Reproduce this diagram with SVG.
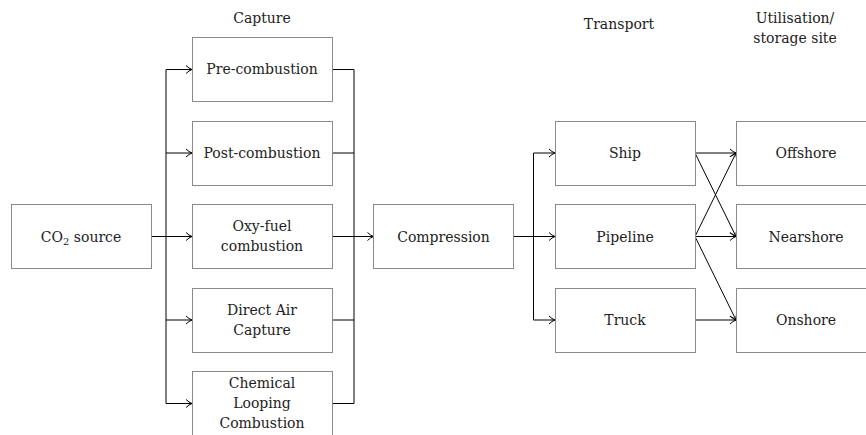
<svg xmlns="http://www.w3.org/2000/svg" width="866" height="435" viewBox="0 0 866 435">
<style>
.box{fill:#fff;stroke:#8a8a8a;stroke-width:1}
.t{font-family:"DejaVu Serif","Liberation Serif",serif;font-size:14px;fill:#222;text-anchor:middle}
.c{fill:none;stroke:#000;stroke-width:1}
.a{fill:none;stroke:#000;stroke-width:1;marker-end:url(#arr)}
</style>
<defs>
<marker id="arr" markerWidth="10" markerHeight="10" refX="8" refY="5" orient="auto" markerUnits="userSpaceOnUse">
<path d="M2,1 Q5,4 8,5 Q5,6 2,9" fill="none" stroke="#000" stroke-width="1"/>
</marker>
</defs>
<g id="labels">
<text class="t" x="262" y="23">Capture</text>
<text class="t" x="619" y="29">Transport</text>
<text class="t" x="795" y="23">Utilisation/</text>
<text class="t" x="795" y="43">storage site</text>
</g>
<g id="connectors">
<line class="c" x1="151" y1="236.5" x2="166" y2="236.5"/>
<line class="c" x1="166" y1="69.5" x2="166" y2="403.5"/>
<line class="a" x1="166" y1="69.5" x2="192" y2="69.5"/>
<line class="a" x1="166" y1="153" x2="192" y2="153"/>
<line class="a" x1="166" y1="236.5" x2="192" y2="236.5"/>
<line class="a" x1="166" y1="320" x2="192" y2="320"/>
<line class="a" x1="166" y1="403.5" x2="192" y2="403.5"/>
<line class="c" x1="332" y1="69.5" x2="354" y2="69.5"/>
<line class="c" x1="332" y1="153" x2="354" y2="153"/>
<line class="c" x1="332" y1="236.5" x2="354" y2="236.5"/>
<line class="c" x1="332" y1="320" x2="354" y2="320"/>
<line class="c" x1="332" y1="403.5" x2="354" y2="403.5"/>
<line class="c" x1="354" y1="69.5" x2="354" y2="403.5"/>
<line class="a" x1="354" y1="236.5" x2="373.5" y2="236.5"/>
<line class="c" x1="513.5" y1="236.5" x2="533.5" y2="236.5"/>
<line class="c" x1="533.5" y1="153" x2="533.5" y2="320"/>
<line class="a" x1="533.5" y1="153" x2="555" y2="153"/>
<line class="a" x1="533.5" y1="236.5" x2="555" y2="236.5"/>
<line class="a" x1="533.5" y1="320" x2="555" y2="320"/>
<line class="a" x1="695" y1="153" x2="736" y2="153"/>
<line class="a" x1="695" y1="153" x2="736" y2="236.5"/>
<line class="a" x1="695" y1="236.5" x2="736" y2="153"/>
<line class="a" x1="695" y1="236.5" x2="736" y2="236.5"/>
<line class="a" x1="695" y1="236.5" x2="736" y2="320"/>
<line class="a" x1="695" y1="320" x2="736" y2="320"/>
</g>
<g id="co2source">
<rect class="box" x="11.5" y="204.5" width="140" height="64"/>
<text class="t" x="81" y="242">CO<tspan font-size="10" dy="3">2</tspan><tspan dy="-3"> source</tspan></text>
</g>
<g id="precombustion">
<rect class="box" x="192.5" y="37.5" width="140" height="64"/>
<text class="t" x="262" y="74">Pre-combustion</text>
</g>
<g id="postcombustion">
<rect class="box" x="192.5" y="121.5" width="140" height="64"/>
<text class="t" x="262" y="158">Post-combustion</text>
</g>
<g id="oxyfuel">
<rect class="box" x="192.5" y="204.5" width="140" height="64"/>
<text class="t" x="262" y="231">Oxy-fuel</text>
<text class="t" x="262" y="251">combustion</text>
</g>
<g id="dac">
<rect class="box" x="192.5" y="288.5" width="140" height="64"/>
<text class="t" x="262" y="315">Direct Air</text>
<text class="t" x="262" y="335">Capture</text>
</g>
<g id="clc">
<rect class="box" x="192.5" y="371.5" width="140" height="64"/>
<text class="t" x="262" y="388">Chemical</text>
<text class="t" x="262" y="408">Looping</text>
<text class="t" x="262" y="428">Combustion</text>
</g>
<g id="compression">
<rect class="box" x="373.5" y="204.5" width="140" height="64"/>
<text class="t" x="443.5" y="242">Compression</text>
</g>
<g id="ship">
<rect class="box" x="555.5" y="121.5" width="140" height="64"/>
<text class="t" x="625" y="158">Ship</text>
</g>
<g id="pipeline">
<rect class="box" x="555.5" y="204.5" width="140" height="64"/>
<text class="t" x="625" y="242">Pipeline</text>
</g>
<g id="truck">
<rect class="box" x="555.5" y="288.5" width="140" height="64"/>
<text class="t" x="625" y="325">Truck</text>
</g>
<g id="offshore">
<rect class="box" x="736.5" y="121.5" width="140" height="64"/>
<text class="t" x="806" y="158">Offshore</text>
</g>
<g id="nearshore">
<rect class="box" x="736.5" y="204.5" width="140" height="64"/>
<text class="t" x="806" y="242">Nearshore</text>
</g>
<g id="onshore">
<rect class="box" x="736.5" y="288.5" width="140" height="64"/>
<text class="t" x="806" y="325">Onshore</text>
</g>
</svg>
